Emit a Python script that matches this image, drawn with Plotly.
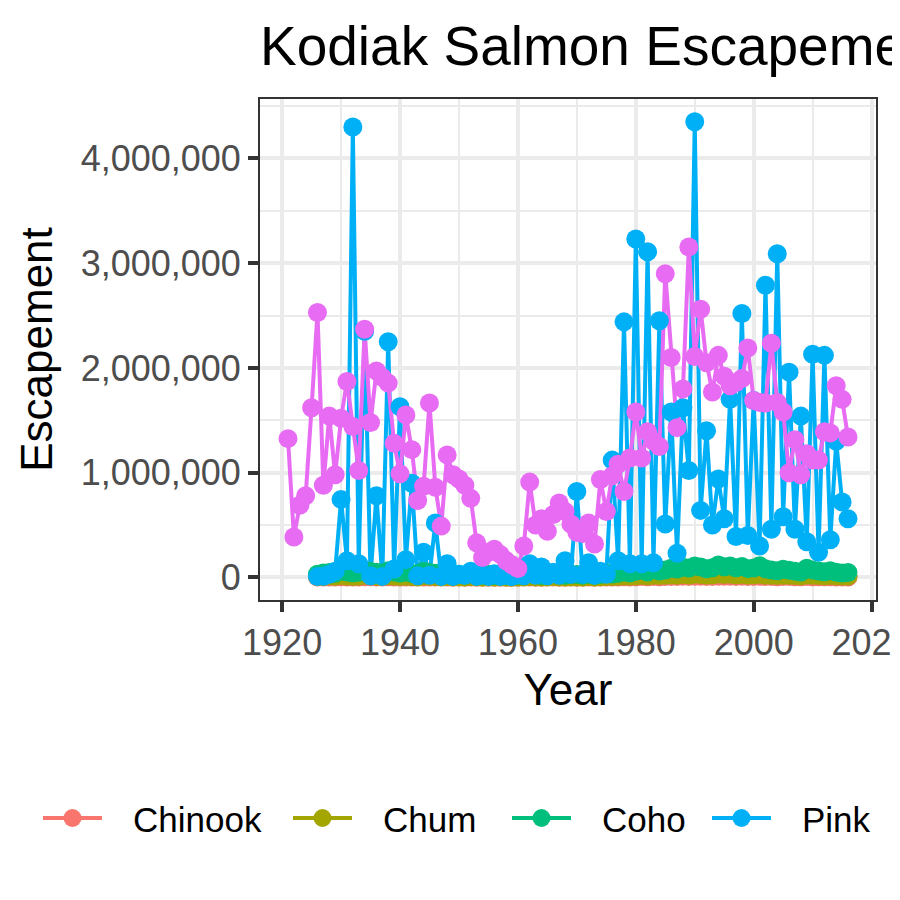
import plotly.graph_objects as go

# Kodiak salmon escapement by species
sockeye_years = list(range(1921, 2017))
sockeye = [1325000, 386000, 690000, 780000, 1620000, 2530000, 880000, 1540000, 980000, 1520000,
           1870000, 1440000, 1020000, 2370000, 1480000, 1970000, 1910000, 1855000, 1280000, 990000,
           1550000, 1220000, 735000, 870000, 1665000, 860000, 490000, 1170000, 980000, 940000,
           880000, 755000, 330000, 190000, 240000, 270000, 220000, 160000, 120000, 86000,
           300000, 910000, 500000, 560000, 440000, 600000, 710000, 630000, 510000, 430000,
           420000, 520000, 320000, 935000, 630000, 970000, 1080000, 820000, 1140000, 1580000,
           1140000, 1390000, 1300000, 1250000, 2900000, 2100000, 1430000, 1800000, 3155000, 2110000,
           2560000, 2050000, 1770000, 2120000, 1920000, 1830000, 1860000, 1900000, 2190000, 1690000,
           1670000, 1665000, 2235000, 1670000, 1580000, 1000000, 1315000, 980000, 1180000, 1120000,
           1120000, 1390000, 1380000, 1830000, 1700000, 1340000]

years = list(range(1926, 2017))
pink = [8000, 12000, 30000, 60000, 745000, 160000, 4300000, 130000, 2350000, 15000,
        780000, 10000, 2250000, 80000, 1630000, 170000, 900000, 15000, 240000, 20000,
        520000, 10000, 130000, 10000, 30000, 20000, 60000, 10000, 25000, 10000,
        35000, 10000, 20000, 8000, 40000, 15000, 130000, 20000, 100000, 15000,
        50000, 20000, 160000, 30000, 820000, 30000, 140000, 20000, 60000, 30000,
        1120000, 160000, 2440000, 130000, 3230000, 130000, 3110000, 140000, 2450000, 510000,
        1580000, 230000, 1620000, 1020000, 4350000, 640000, 1400000, 500000, 940000, 560000,
        1700000, 390000, 2520000, 400000, 1690000, 300000, 2790000, 460000, 3090000, 580000,
        1960000, 460000, 1540000, 340000, 2130000, 240000, 2120000, 360000, 1300000, 720000,
        560000]

coho = [31000, 42000, 48000, 39000, 61000, 52000, 44000, 50000, 68000, 57000,
        49000, 41000, 63000, 52000, 43000, 51000, 38000, 33000, 59000, 47000,
        41000, 30000, 39000, 28000, 31000, 22000, 37000, 27000, 21000, 29000,
        19000, 26000, 18000, 17000, 21000, 28000, 36000, 27000, 19000, 30000,
        38000, 26000, 21000, 29000, 27000, 22000, 31000, 20000, 28000, 39000,
        33000, 41000, 52000, 44000, 58000, 69000, 51000, 78000, 62000, 71000,
        88000, 80000, 97000, 90000, 108000, 99000, 83000, 92000, 118000, 101000,
        110000, 93000, 104000, 84000, 90000, 112000, 82000, 71000, 63000, 79000,
        68000, 60000, 52000, 88000, 72000, 61000, 54000, 63000, 50000, 43000,
        47000]

chum = [9000, 12000, 15000, 11000, 18000, 14000, 10000, 13000, 20000, 16000,
        12000, 9000, 17000, 13000, 10000, 12000, 8000, 7000, 14000, 11000,
        9000, 6000, 8000, 6000, 7000, 5000, 8000, 6000, 5000, 6000,
        4000, 6000, 4000, 4000, 5000, 7000, 9000, 6000, 5000, 7000,
        8000, 6000, 5000, 7000, 6000, 5000, 8000, 5000, 7000, 10000,
        9000, 12000, 15000, 13000, 17000, 20000, 16000, 22000, 18000, 21000,
        25000, 22000, 28000, 24000, 31000, 27000, 23000, 26000, 33000, 29000,
        30000, 26000, 28000, 24000, 25000, 30000, 23000, 21000, 19000, 22000,
        20000, 18000, 16000, 24000, 20000, 18000, 16000, 19000, 15000, 13000,
        14000]

chinook = [3000, 4000, 5000, 4000, 6000, 5000, 4000, 5000, 7000, 6000,
           5000, 4000, 6000, 5000, 4000, 5000, 3000, 3000, 5000, 4000,
           4000, 3000, 3000, 2000, 3000, 2000, 3000, 2000, 2000, 2000,
           2000, 2000, 2000, 2000, 2000, 3000, 3000, 2000, 2000, 3000,
           3000, 2000, 2000, 3000, 2000, 2000, 3000, 2000, 3000, 4000,
           4000, 5000, 6000, 5000, 7000, 8000, 6000, 9000, 7000, 8000,
           10000, 9000, 11000, 10000, 12000, 11000, 9000, 10000, 12000, 11000,
           11000, 10000, 11000, 9000, 10000, 11000, 9000, 8000, 7000, 8000,
           8000, 7000, 6000, 8000, 7000, 6000, 6000, 7000, 5000, 5000,
           5000]

species = ['Chinook', 'Chum', 'Coho', 'Pink', 'Sockeye']
seriesYears = [years, years, years, years, sockeye_years]
seriesValues = [chinook, chum, coho, pink, sockeye]

# ggplot default hue palette
lineColour = ['#F8766D', '#A3A500', '#00BF7D', '#00B0F6', '#E76BF3']
fontFamily = 'Liberation Sans, Arial, Helvetica, sans-serif'
gridColour = '#EBEBEB'

# ggplot style range: data range plus 5% each side
allYears = [yr for ls in seriesYears for yr in ls]
allVals = [v for ls in seriesValues for v in ls]
xPad = 0.05 * (max(allYears) - min(allYears))
yPad = 0.05 * (max(allVals) - min(allVals))
xRange = [min(allYears) - xPad, max(allYears) + xPad]
yRange = [min(allVals) - yPad, max(allVals) + yPad]

fig = go.Figure()

# lines first, then the points on top (geom_line + geom_point)
for name, xs, ys, col in zip(species, seriesYears, seriesValues, lineColour):
    fig.add_trace(go.Scatter(x=xs, y=ys, mode='lines', name=name, showlegend=False,
                             line=dict(color=col, width=4)))
for name, xs, ys, col in zip(species, seriesYears, seriesValues, lineColour):
    fig.add_trace(go.Scatter(x=xs, y=ys, mode='markers', name=name, showlegend=False,
                             marker=dict(color=col, size=19)))

# the page has an 8px body margin, so the figure is 892 wide and every pixel
# position below is the reference position minus 8
figW, figH = 892, 892
plotLeft, plotRight, plotTop, plotBottom = 252, 868, 91, 592
def fx(px):
    return (px - plotLeft) / (plotRight - plotLeft)
def fy(py):
    return (plotBottom - py) / (plotBottom - plotTop)

# hand made legend below the panel (it runs off the right edge like the reference)
keyStart = [35, 285, 504, 704, 891]
keyY = 810
shapes = []
annotations = []
for name, col, start in zip(species, lineColour, keyStart):
    shapes.append(dict(type='line', xref='paper', yref='paper', x0=fx(start), x1=fx(start + 59),
                       y0=fy(keyY), y1=fy(keyY), line=dict(color=col, width=4)))
    centre = start + 29.5
    shapes.append(dict(type='circle', xref='paper', yref='paper', x0=fx(centre - 9), x1=fx(centre + 9),
                       y0=fy(keyY + 9), y1=fy(keyY - 9), fillcolor=col, line=dict(width=0)))
    annotations.append(dict(text=name, xref='paper', yref='paper', x=fx(start + 88), y=fy(keyY + 1),
                            xanchor='left', yanchor='middle', showarrow=False,
                            font=dict(size=35, color='black', family=fontFamily)))

fig.update_xaxes(range=xRange, tick0=1920, dtick=20, showgrid=True, gridcolor=gridColour, gridwidth=3.5,
                 minor=dict(tick0=1910, dtick=10, showgrid=True, gridcolor=gridColour, gridwidth=1.8),
                 ticks='outside', ticklen=10, tickwidth=4, tickcolor='#333333', ticklabeloverflow='allow',
                 showline=True, linecolor='#333333', linewidth=2, mirror=True, zeroline=False,
                 tickfont=dict(size=36, color='#4D4D4D', family=fontFamily),
                 title=dict(text='Year', font=dict(size=44, color='black', family=fontFamily), standoff=12))
fig.update_yaxes(range=yRange, tick0=0, dtick=1000000, tickformat=',', showgrid=True, gridcolor=gridColour,
                 gridwidth=3.5,
                 minor=dict(tick0=500000, dtick=1000000, showgrid=True, gridcolor=gridColour, gridwidth=1.8),
                 ticks='outside', ticklen=10, tickwidth=4, tickcolor='#333333',
                 showline=True, linecolor='#333333', linewidth=2, mirror=True, zeroline=False,
                 tickfont=dict(size=36, color='#4D4D4D', family=fontFamily),
                 title=dict(text='Escapement', font=dict(size=44, color='black', family=fontFamily), standoff=14))

fig.update_layout(width=figW, height=figH, autosize=False,
                  margin=dict(l=plotLeft, r=figW - plotRight, t=plotTop, b=figH - plotBottom, autoexpand=False),
                  paper_bgcolor='white', plot_bgcolor='white',
                  title=dict(text='Kodiak Salmon Escapement', x=0, xref='paper', xanchor='left',
                             y=1 - 38 / figH, yref='container', yanchor='middle',
                             font=dict(size=55, color='black', family=fontFamily)),
                  shapes=shapes, annotations=annotations, showlegend=False)

fig.write_html("out.html")
